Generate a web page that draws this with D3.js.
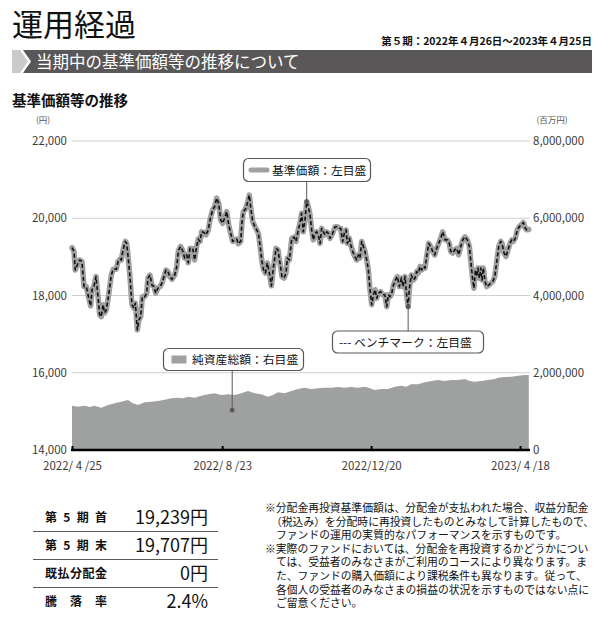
<!DOCTYPE html>
<html lang="ja">
<head>
<meta charset="utf-8">
<script src="https://cdn.jsdelivr.net/npm/d3@7"></script>
<style>
body { margin: 0; background: #fff; }
svg { display: block; font-family: "Noto Sans CJK JP", "Noto Sans", sans-serif; }
</style>
</head>
<body>
<svg id="chart" width="609" height="618"></svg>
<script>
var startDate = new Date(2022, 3, 25);
var endDate = new Date(2023, 3, 25);

// days since 2022/4/25
var navDays = [
	0, 1.6, 2.6, 4.2, 6.2, 8, 9.6, 11.4, 12.8, 14.9,
	16, 17.6, 19.2, 20.8, 22.1, 23.4, 24.8, 26.1, 27.4, 29.3,
	31.4, 33, 35.4, 36.8, 38.4, 39.4, 40.8, 42.6, 43.7, 44.8,
	46.3, 47.9, 49.5, 50.6, 52.2, 53.5, 54.9, 56.2, 58.1, 59.7,
	60.7, 62.3, 63.9, 65.5, 66.9, 68.7, 70.3, 71.9, 73.5, 75.1,
	76.7, 78.1, 79.9, 82.1, 83.7, 85, 86.8, 88.7, 90, 91.7,
	92.9, 94.3, 96.5, 98, 99.6, 100.9, 102.3, 103.6, 105.5, 107.1,
	108.9, 110.3, 112.4, 114, 115.6, 117.2, 118.8, 120.4, 122.3, 123.6,
	125.2, 126.8, 128.4, 130.3, 131.6, 132.9, 134.8, 135.8, 136.9, 138.5,
	140.1, 141.7, 143, 144.4, 146.2, 147.6, 148.9, 150.2, 151.6, 152.9,
	154.5, 156.1, 157.7, 159.3, 160.9, 163, 164.6, 166.2, 167.8, 169.4,
	171, 172.1, 173.7, 175.6, 177.4, 179, 180.8, 182.2, 183.5, 184.8,
	186.2, 187.5, 188.8, 190.2, 191.5, 192.8, 194.2, 195.5, 196.8, 198.2,
	199.5, 200.8, 202.2, 203.5, 204.8, 206.2, 208.3, 210.2, 212, 213.6,
	214.7, 216.3, 217.6, 219, 220, 221.6, 222.7, 224.3, 225.9, 227.5,
	228.8, 230.1, 231.5, 232.8, 234.1, 235.5, 236.8, 238.1, 239.5, 240.8,
	242.2, 243.5, 244.8, 246.7, 248.3, 249.9, 251.5, 252.8, 254.1, 255.5,
	256.8, 258.4, 260, 261.6, 263.2, 264.5, 266.1, 267.2, 268.6, 269.5,
	271.1, 272.7, 274.1, 275.4, 276.7, 278.1, 279.4, 280.7, 282.1, 283.4,
	285, 286.6, 288.2, 289.8, 291.4, 293, 294.6, 296.2, 297.3, 298.3,
	299.9, 301.5, 302.6, 304.2, 305.8, 307.4, 309, 310.6, 312.2, 314,
	315.9, 317.5, 318.8, 320.2, 321.2, 322.3, 323.4, 324.4, 325.5, 326.6,
	327.6, 328.7, 330, 331.4, 333, 334.6, 336.2, 337.8, 339.4, 341,
	342.6, 343.6, 345.2, 346.8, 348.4, 350, 351.4, 352.7, 354.2, 355.8,
	357.4, 359, 360.6, 362.2, 363.3, 365
];

var navValues = [
	19239, 19140, 18660, 18790, 18920, 18880, 18230, 18230, 18020, 17730,
	18150, 18250, 18490, 17970, 17500, 17450, 17760, 17550, 17630, 18020,
	18530, 18680, 18680, 18880, 18940, 18920, 19180, 19400, 19350, 19010,
	18490, 17760, 17670, 17800, 17110, 17370, 17450, 17970, 17970, 18060,
	18450, 18530, 18270, 18230, 18060, 18190, 18230, 18320, 18490, 18660,
	18620, 18490, 18420, 18530, 18750, 19160, 19270, 19140, 18970, 19050,
	18850, 19220, 19220, 18920, 19270, 19460, 19400, 19650, 19630, 19570,
	19700, 19960, 20220, 20300, 20520, 20390, 19960, 19870, 20040, 20170,
	19830, 19610, 19400, 19440, 19460, 19340, 19400, 19870, 20170, 20230,
	20390, 20600, 20220, 19910, 19780, 19700, 19610, 19310, 18920, 18680,
	18580, 18840, 18580, 18250, 18710, 19220, 19180, 18840, 18490, 18450,
	18580, 18970, 18920, 19480, 19510, 19400, 19700, 19870, 20130, 19650,
	19960, 20430, 20300, 20090, 19700, 19440, 19610, 19650, 19570, 19350,
	19740, 19650, 19570, 19650, 19610, 19480, 19610, 19780, 19780, 19740,
	19740, 19400, 19610, 19700, 19350, 19480, 19310, 19140, 19010, 18920,
	19050, 18970, 19400, 19270, 19140, 18920, 18660, 18150, 17760, 18020,
	18150, 17930, 18060, 18100, 18020, 18020, 17710, 18020, 17970, 18060,
	18270, 18400, 18490, 18230, 18450, 18230, 18490, 18060, 17710, 18150,
	18530, 18400, 18450, 18620, 18580, 18750, 18660, 18750, 18710, 19010,
	19350, 19270, 19140, 19050, 19220, 19350, 19480, 19650, 19520, 19440,
	19440, 19350, 19140, 19100, 19180, 19220, 19050, 19270, 19440, 19520,
	19440, 19270, 18840, 18400, 18190, 18660, 18490, 18710, 18450, 18710,
	18400, 18710, 18360, 18230, 18270, 18320, 18360, 18490, 18880, 19270,
	19400, 19350, 19100, 19010, 19180, 19350, 19440, 19400, 19480, 19700,
	19780, 19830, 19890, 19740, 19700, 19707
];

// the benchmark runs on the same path as the fund in the picture
var benchValues = navValues;

var assetDays = [
	0, 4.8, 10.1, 14.1, 18.1, 23.4, 28.8, 34.1, 39.4, 44.7,
	48.7, 52.7, 58.1, 63.4, 68.7, 74.1, 79.4, 84.7, 88.7, 92.7,
	98, 103.3, 108.7, 114, 119.3, 124.7, 130, 135.3, 140.6, 146,
	151.3, 156.6, 160.6, 164.6, 170, 175.2, 180.6, 186, 191.2, 196.6,
	201.9, 207.2, 212.6, 217.9, 223.2, 228.5, 233.9, 237.9, 241.9, 247.2,
	252.5, 257.9, 263.1, 267.1, 271.1, 276.5, 281.8, 287.1, 292.5, 297.8,
	303.1, 308.5, 313.8, 317.8, 321.8, 327.1, 332.4, 337.8, 340.4, 345.8,
	351.1, 356.4, 361.8, 365
];

// 百万円
var assetValues = [
	1146000, 1120000, 1146000, 1112000, 1146000, 1094000, 1164000, 1208000, 1250000, 1294000,
	1208000, 1164000, 1234000, 1250000, 1268000, 1301000, 1337000, 1353000, 1337000, 1379000,
	1353000, 1405000, 1441000, 1467000, 1423000, 1441000, 1423000, 1467000, 1526000, 1467000,
	1441000, 1379000, 1423000, 1493000, 1467000, 1526000, 1578000, 1612000, 1578000, 1596000,
	1612000, 1612000, 1630000, 1612000, 1630000, 1612000, 1638000, 1596000, 1552000, 1578000,
	1578000, 1638000, 1663000, 1638000, 1700000, 1700000, 1751000, 1785000, 1811000, 1785000,
	1811000, 1811000, 1837000, 1785000, 1767000, 1785000, 1811000, 1837000, 1870000, 1889000,
	1896000, 1922000, 1940000, 1940000
];

var xTickDates = ["2022-04-25", "2022-08-23", "2022-12-20", "2023-04-18"];
var leftTicks = [14000, 16000, 18000, 20000, 22000];
var rightTicks = [0, 2000000, 4000000, 6000000, 8000000];

var tableLabels = ["第5期首", "第5期末", "既払分配金", "騰落率"];
var tableValues = ["19,239円", "19,707円", "0円", "2.4%"];

var noteLines = [
	"※分配金再投資基準価額は、分配金が支払われた場合、収益分配金",
	"（税込み）を分配時に再投資したものとみなして計算したもので、",
	"ファンドの運用の実質的なパフォーマンスを示すものです。",
	"※実際のファンドにおいては、分配金を再投資するかどうかについ",
	"ては、受益者のみなさまがご利用のコースにより異なります。ま",
	"た、ファンドの購入価額により課税条件も異なります。従って、",
	"各個人の受益者のみなさまの損益の状況を示すものではない点に",
	"ご留意ください。"
];

var svg = d3.select("#chart");
var toDate = function(d) { return new Date(+startDate + d * 864e5); };
var parseDay = d3.timeParse("%Y-%m-%d");

// header
svg.append("text").attr("x", 12).attr("y", 36)
	.attr("font-size", 31).attr("fill", "#111").text("運用経過");
svg.append("text").attr("x", 592).attr("y", 45).attr("text-anchor", "end")
	.attr("font-size", 10.5).attr("font-weight", "bold").attr("fill", "#111")
	.text("第５期：2022年４月26日～2023年４月25日");

svg.append("polygon").attr("points", "12,50 20,50 28,61.5 20,73 12,73").attr("fill", "#c9caca");
svg.append("polygon").attr("points", "23,50 592,50 592,73 23,73 31,61.5").attr("fill", "#595757");
svg.append("text").attr("x", 36).attr("y", 67.5)
	.attr("font-size", 16.5).attr("fill", "#fff").text("当期中の基準価額等の推移について");

svg.append("text").attr("x", 12).attr("y", 106)
	.attr("font-size", 14.5).attr("font-weight", "bold").attr("fill", "#111").text("基準価額等の推移");
svg.append("text").attr("x", 43).attr("y", 123).attr("text-anchor", "middle")
	.attr("font-size", 8.5).attr("fill", "#555").text("(円)");
svg.append("text").attr("x", 552).attr("y", 123).attr("text-anchor", "middle")
	.attr("font-size", 8.5).attr("fill", "#555").text("(百万円)");

// scales
var x = d3.scaleTime().domain([startDate, endDate]).range([72, 528.8]);
var yLeft = d3.scaleLinear().domain([14000, 22000]).range([450, 141]);
var yRight = d3.scaleLinear().domain([0, 8000000]).range([450, 141]);

svg.append("g").selectAll("line")
	.data(leftTicks.slice(1))
	.join("line")
	.attr("x1", 72).attr("x2", 530)
	.attr("y1", function(d) { return yLeft(d); })
	.attr("y2", function(d) { return yLeft(d); })
	.attr("stroke", "#d0d0d0").attr("stroke-width", 1);

var assets = assetDays.map(function(d, i) { return { date: toDate(d), value: assetValues[i] }; });
var nav = navDays.map(function(d, i) { return { date: toDate(d), value: navValues[i] }; });
var bench = navDays.map(function(d, i) { return { date: toDate(d), value: benchValues[i] }; });

svg.append("path")
	.datum(assets)
	.attr("fill", "#9fa0a0")
	.attr("d", d3.area()
		.x(function(d) { return x(d.date); })
		.y0(yRight(0))
		.y1(function(d) { return yRight(d.value); }));

var line = d3.line()
	.x(function(d) { return x(d.date); })
	.y(function(d) { return yLeft(d.value); });

svg.append("path").datum(nav)
	.attr("fill", "none").attr("stroke", "#9fa0a0").attr("stroke-width", 5.5)
	.attr("stroke-linejoin", "round").attr("stroke-linecap", "round")
	.attr("d", line);
svg.append("path").datum(bench)
	.attr("fill", "none").attr("stroke", "#111").attr("stroke-width", 1.6)
	.attr("stroke-dasharray", "4,2.5").attr("stroke-linejoin", "round")
	.attr("d", line);

// axes
var axisLeft = svg.append("g").attr("transform", "translate(72,0)")
	.call(d3.axisLeft(yLeft).tickValues(leftTicks).tickSize(0).tickPadding(5)
		.tickFormat(d3.format(",")));
var axisRight = svg.append("g").attr("transform", "translate(530,0)")
	.call(d3.axisRight(yRight).tickValues(rightTicks).tickSize(0).tickPadding(3)
		.tickFormat(d3.format(",")));
var axisBottom = svg.append("g").attr("transform", "translate(0,450)")
	.call(d3.axisBottom(x).tickValues(xTickDates.map(parseDay))
		.tickSizeInner(-4).tickSizeOuter(0).tickPadding(12)
		.tickFormat(function(d) {
			var m = d.getMonth() + 1;
			return d.getFullYear() + "/" + (m < 10 ? " " + m + " " : m) + "/" + d.getDate();
		}));

[axisLeft, axisRight, axisBottom].forEach(function(g) {
	g.select(".domain").remove();
	g.selectAll("text").attr("font-size", 11.5).attr("fill", "#3e3a39")
		.attr("font-family", "\"Noto Sans CJK JP\", sans-serif");
	g.selectAll("text").style("white-space", "pre");
});
axisBottom.selectAll(".tick line").attr("stroke", "#000").attr("stroke-width", 2);
svg.append("line").attr("x1", 71).attr("x2", 530).attr("y1", 450).attr("y2", 450)
	.attr("stroke", "#000").attr("stroke-width", 2.5);

// callouts
var callout = svg.append("g");
function box(bx, by, bw, bh) {
	callout.append("rect").attr("x", bx).attr("y", by).attr("width", bw).attr("height", bh)
		.attr("rx", 5).attr("fill", "#fff").attr("stroke", "#595757").attr("stroke-width", 1.2);
}
function leader(px, y1, y2) {
	callout.append("line").attr("x1", px).attr("x2", px).attr("y1", y1).attr("y2", y2)
		.attr("stroke", "#595757").attr("stroke-width", 1);
	callout.append("circle").attr("cx", px).attr("cy", y2).attr("r", 2.4).attr("fill", "#595757");
}

var navPeak = nav[121];
box(243.5, 158.5, 127, 23);
leader(x(navPeak.date), 181.5, yLeft(navPeak.value));
callout.append("line").attr("x1", 251).attr("x2", 267).attr("y1", 170).attr("y2", 170)
	.attr("stroke", "#9fa0a0").attr("stroke-width", 5).attr("stroke-linecap", "round");
callout.append("text").attr("x", 272).attr("y", 174.5).attr("font-size", 11.8).attr("fill", "#111")
	.text("基準価額：左目盛");

var benchLow = bench[178];
box(332.5, 331, 151, 22);
leader(x(benchLow.date), 331, yLeft(benchLow.value));
callout.append("text").attr("x", 339).attr("y", 346.5).attr("font-size", 11.8).attr("fill", "#111")
	.text("--- ベンチマーク：左目盛");

box(163.5, 348.5, 140, 22);
leader(x(toDate(128)), 370.5, yRight(1030000));
callout.append("rect").attr("x", 171.5).attr("y", 355.5).attr("width", 15).attr("height", 8)
	.attr("fill", "#9fa0a0");
callout.append("text").attr("x", 192).attr("y", 364).attr("font-size", 11.8).attr("fill", "#111")
	.text("純資産総額：右目盛");

// summary table
var table = svg.append("g");
tableLabels.forEach(function(label, i) {
	var cy = 517 + i * 28;
	table.append("text").attr("x", 45).attr("y", cy + 4.5)
		.attr("font-size", 12).attr("font-weight", "bold").attr("fill", "#111")
		.attr("textLength", 62).attr("lengthAdjust", "spacing").text(label);
	table.append("text").attr("x", 208).attr("y", cy + 6.5).attr("text-anchor", "end")
		.attr("font-size", 18).attr("fill", "#111").text(tableValues[i]);
	if (i < tableLabels.length - 1) {
		table.append("line").attr("x1", 33).attr("x2", 218)
			.attr("y1", cy + 14.5).attr("y2", cy + 14.5)
			.attr("stroke", "#595757").attr("stroke-width", 1);
	}
});

// notes as one paragraph
svg.append("text")
	.attr("font-size", 10.8).attr("fill", "#111")
	.selectAll("tspan")
	.data(noteLines)
	.join("tspan")
	.attr("x", function(d) { return d.charAt(0) === "※" ? 265 : (d.charAt(0) === "（" ? 271 : 276); })
	.attr("y", function(d, i) { return 512 + i * 13.6; })
	.text(function(d) { return d; });
</script>
</body>
</html>
